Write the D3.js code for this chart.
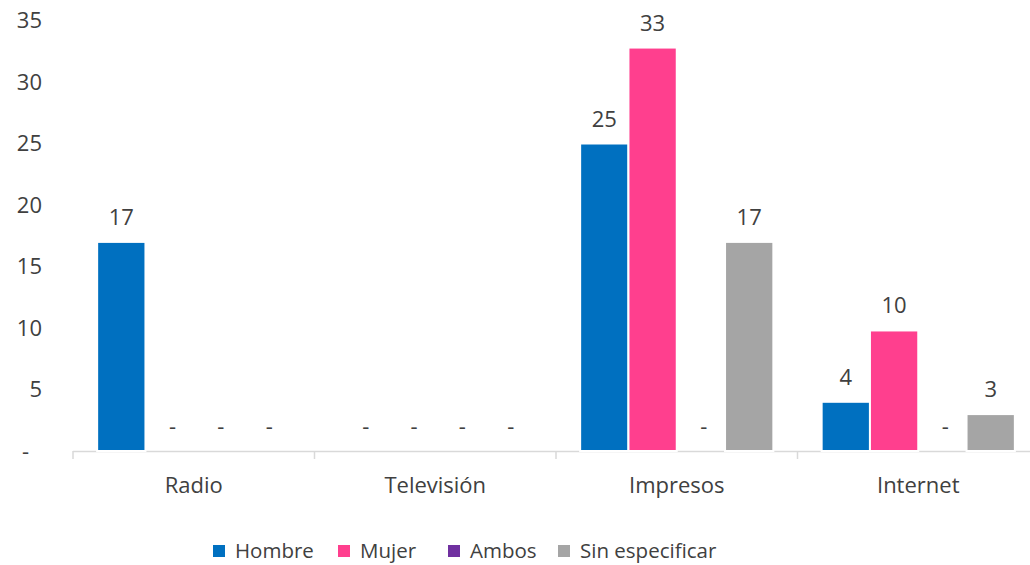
<!DOCTYPE html>
<html>
<head>
<meta charset="utf-8">
<script src="https://cdn.jsdelivr.net/npm/d3@7"></script>
<style>
  body { margin: 0; background: #fff; }
  text { font-family: "Open Sans", sans-serif; fill: #404040; }
</style>
</head>
<body>
<div id="chart"></div>
<script>
const categories = ["Radio", "Televisión", "Impresos", "Internet"];
const seriesNames = ["Hombre", "Mujer", "Ambos", "Sin especificar"];
const hombre = [17, 0, 25, 4];
const mujer = [0, 0, 32.8, 9.8];
const ambos = [0, 0, 0, 0];
const sinEspecificar = [0, 0, 17, 3];
const yTicks = [0, 5, 10, 15, 20, 25, 30, 35];
const colors = ["#0070C0", "#FF3F8E", "#7030A0", "#A5A5A5"];

const seriesValues = [hombre, mujer, ambos, sinEspecificar];
const rows = categories.map((c, i) => ({
  category: c,
  values: seriesNames.map((s, j) => ({ series: s, value: seriesValues[j][i] }))
}));

const width = 1030, height = 565;
const svg = d3.select("#chart").append("svg")
  .attr("width", width)
  .attr("height", height);

const x = d3.scaleBand().domain(categories).range([73, 1039]).padding(0);
const xs = d3.scaleBand().domain(seriesNames).range([0, x.bandwidth()]).paddingInner(0).paddingOuter(0.5);
const y = d3.scaleLinear().domain([0, 35]).range([451, 20.5]);
const color = d3.scaleOrdinal().domain(seriesNames).range(colors);

// y axis labels only
svg.append("g")
  .selectAll("text")
  .data(yTicks)
  .enter().append("text")
  .attr("x", d => d === 0 ? 29 : 42)
  .attr("y", d => y(d))
  .attr("dy", "0.35em")
  .attr("text-anchor", "end")
  .style("font-size", "22px")
  .text(d => d === 0 ? "-" : d);

// x axis line with ticks at category boundaries
const axis = svg.append("g");
axis.append("line")
  .attr("x1", 73).attr("x2", 1039)
  .attr("y1", y(0) + 0.5).attr("y2", y(0) + 0.5)
  .attr("stroke", "#D9D9D9").attr("stroke-width", 1.5);
axis.selectAll("line.tick")
  .data(categories.concat([null]))
  .enter().append("line")
  .attr("class", "tick")
  .attr("x1", (d, i) => 73 + i * x.step())
  .attr("x2", (d, i) => 73 + i * x.step())
  .attr("y1", y(0)).attr("y2", y(0) + 8)
  .attr("stroke", "#D9D9D9").attr("stroke-width", 1.5);
axis.selectAll("text")
  .data(categories)
  .enter().append("text")
  .attr("x", d => x(d) + x.bandwidth() / 2)
  .attr("y", 493)
  .attr("text-anchor", "middle")
  .style("font-size", "22px")
  .text(d => d);

// bars
const groups = svg.append("g").selectAll("g")
  .data(rows)
  .enter().append("g")
  .attr("transform", d => `translate(${x(d.category)},0)`);

groups.selectAll("rect")
  .data(d => d.values)
  .enter().append("rect")
  .attr("x", d => xs(d.series))
  .attr("width", xs.bandwidth())
  .attr("y", d => y(d.value))
  .attr("height", d => y(0) - y(d.value))
  .attr("fill", d => color(d.series))
  .attr("stroke", "#fff")
  .attr("stroke-width", 2);

groups.selectAll("text")
  .data(d => d.values)
  .enter().append("text")
  .attr("x", d => xs(d.series) + xs.bandwidth() / 2 + (d.value === 0 ? 3 : 0))
  .attr("y", d => y(d.value) - 17)
  .attr("text-anchor", "middle")
  .style("font-size", "22px")
  .text(d => d.value === 0 ? "-" : Math.round(d.value));

// legend
const legendX = [213, 338, 448, 558];
const legend = svg.append("g").selectAll("g")
  .data(seriesNames)
  .enter().append("g")
  .attr("transform", (d, i) => `translate(${legendX[i]},551)`);
legend.append("rect")
  .attr("x", 0).attr("y", -6)
  .attr("width", 12).attr("height", 12)
  .attr("fill", d => color(d));
legend.append("text")
  .attr("x", 22)
  .attr("dy", "0.35em")
  .style("font-size", "20.5px")
  .text(d => d);
</script>
</body>
</html>
